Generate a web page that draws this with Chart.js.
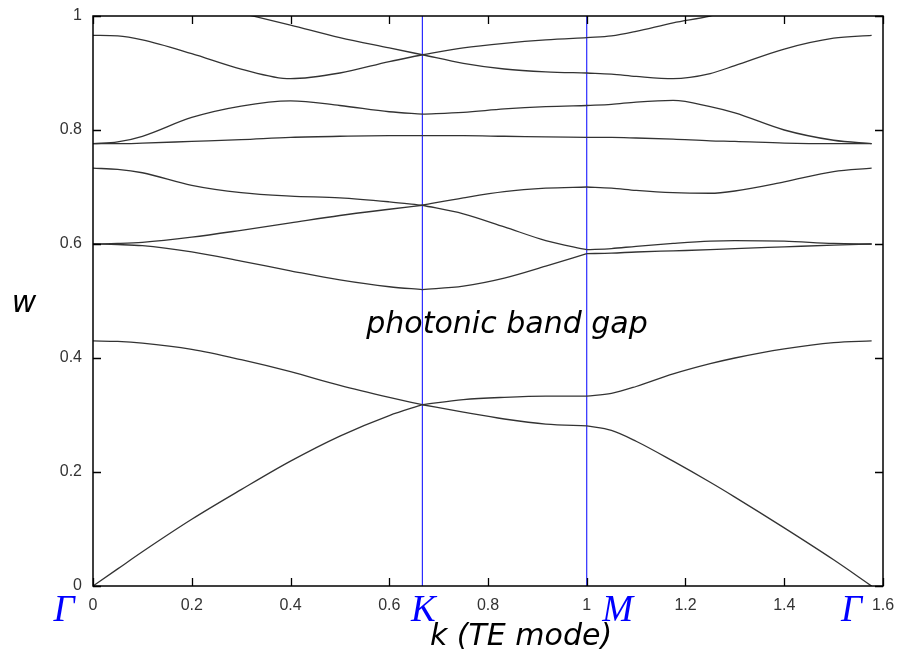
<!DOCTYPE html>
<html>
<head>
<meta charset="utf-8">
<script src="https://cdn.jsdelivr.net/npm/chart.js@4.4.1/dist/chart.umd.min.js"></script>
<style>
  html, body { margin: 0; padding: 0; background: #fff; }
  #wrap { width: 900px; height: 657px; }
</style>
</head>
<body>
<div id="wrap"><canvas id="bandChart" width="900" height="657"></canvas></div>
<script>
// 1. DATA

// k along the path Γ -> K -> M -> Γ
const kGrid = [0, 0.05, 0.1, 0.2, 0.3, 0.4, 0.5, 0.6, 0.667, 0.75, 0.833, 0.917, 1.0,
               1.05, 1.1, 1.175, 1.25, 1.3, 1.4, 1.5, 1.577];

// w for each band at kGrid
const band1 = [0, 0.030, 0.060, 0.117, 0.169, 0.219, 0.263, 0.299, 0.318, 0.305, 0.293, 0.284, 0.281,
               0.273, 0.254, 0.219, 0.182, 0.156, 0.102, 0.046, 0];
const band2 = [0.430, 0.429, 0.426, 0.415, 0.397, 0.376, 0.352, 0.331, 0.318, 0.327, 0.331, 0.333, 0.333,
               0.338, 0.350, 0.372, 0.390, 0.400, 0.416, 0.427, 0.430];
const band3 = [0.600, 0.599, 0.597, 0.586, 0.570, 0.553, 0.537, 0.525, 0.520, 0.526, 0.540, 0.561, 0.583,
               0.584, 0.586, 0.588, 0.590, 0.592, 0.595, 0.598, 0.600];
const band4 = [0.600, 0.601, 0.603, 0.612, 0.624, 0.637, 0.650, 0.661, 0.668, 0.653, 0.630, 0.606, 0.590,
               0.592, 0.596, 0.601, 0.605, 0.606, 0.605, 0.601, 0.600];
const band5 = [0.733, 0.731, 0.725, 0.703, 0.690, 0.684, 0.681, 0.674, 0.668, 0.681, 0.692, 0.698, 0.700,
               0.698, 0.694, 0.690, 0.689, 0.693, 0.709, 0.727, 0.733];
const band6 = [0.776, 0.776, 0.777, 0.780, 0.783, 0.787, 0.789, 0.790, 0.790, 0.790, 0.789, 0.788, 0.787,
               0.787, 0.786, 0.784, 0.781, 0.780, 0.777, 0.776, 0.776];
const band7 = [0.776, 0.779, 0.789, 0.822, 0.842, 0.851, 0.843, 0.832, 0.828, 0.831, 0.837, 0.841, 0.843,
               0.845, 0.849, 0.852, 0.841, 0.830, 0.800, 0.782, 0.776];
const band8 = [0.966, 0.965, 0.958, 0.934, 0.907, 0.890, 0.900, 0.920, 0.932, 0.917, 0.907, 0.902, 0.900,
               0.898, 0.894, 0.890, 0.899, 0.913, 0.942, 0.961, 0.966];
const band9 = [null, null, null, null, 1.005, 0.984, 0.962, 0.944, 0.932, 0.944, 0.952, 0.958, 0.962,
               0.965, 0.973, 0.988, 1.0, 1.012, null, null, null];

const bands = [band1, band2, band3, band4, band5, band6, band7, band8, band9];

// symmetry points
const symLabels = ['Γ', 'K', 'M', 'Γ'];
const symK = [0, 0.667, 1.0, 1.577];

// tick values
const kTicks = [0, 0.2, 0.4, 0.6, 0.8, 1.0, 1.2, 1.4, 1.6];
const wTicks = [0, 0.2, 0.4, 0.6, 0.8, 1.0];

// 2. DATASETS
// each band is split at K and M so the kinks stay sharp
const segBreaks = [[0, 8], [8, 12], [12, 20]];

function buildDatasets() {
  const sets = [];
  // vertical lines at K and M
  [symK[1], symK[2]].forEach(k => {
    sets.push({
      data: [{ x: k, y: 0 }, { x: k, y: 1 }],
      borderColor: '#0000ff',
      borderWidth: 1,
      pointRadius: 0,
      showLine: true,
      order: 2
    });
  });
  bands.forEach(b => {
    segBreaks.forEach(([a, z]) => {
      const pts = [];
      for (let i = a; i <= z; i++) {
        if (b[i] !== null) pts.push({ x: kGrid[i], y: b[i] });
      }
      if (pts.length < 2) return;
      sets.push({
        data: pts,
        borderColor: '#333333',
        borderWidth: 1.3,
        pointRadius: 0,
        showLine: true,
        cubicInterpolationMode: 'monotone',
        order: 1
      });
    });
  });
  return sets;
}

// 3. FRAME, INWARD TICKS AND TEXT
const decorPlugin = {
  id: 'decor',
  afterDatasetsDraw(chart) {
    const { ctx, chartArea: ca, scales } = chart;
    const xs = scales.x, ys = scales.y;
    ctx.save();

    // frame
    ctx.strokeStyle = '#000';
    ctx.lineWidth = 1.5;
    ctx.strokeRect(ca.left, ca.top, ca.right - ca.left, ca.bottom - ca.top);

    // inward ticks on all four sides
    const tl = 8;
    ctx.lineWidth = 1.3;
    ctx.beginPath();
    kTicks.forEach(v => {
      const px = Math.round(xs.getPixelForValue(v)) + 0.5;
      ctx.moveTo(px, ca.bottom); ctx.lineTo(px, ca.bottom - tl);
      ctx.moveTo(px, ca.top); ctx.lineTo(px, ca.top + tl);
    });
    wTicks.forEach(v => {
      const py = Math.round(ys.getPixelForValue(v)) + 0.5;
      ctx.moveTo(ca.left, py); ctx.lineTo(ca.left + tl, py);
      ctx.moveTo(ca.right, py); ctx.lineTo(ca.right - tl, py);
    });
    ctx.stroke();

    // symmetry point labels
    const symShift = [-29, 1, 31, -20];
    ctx.fillStyle = '#0000ff';
    ctx.font = 'italic 37px "Liberation Serif", "DejaVu Serif", serif';
    ctx.textAlign = 'center';
    ctx.textBaseline = 'alphabetic';
    symLabels.forEach((t, i) => {
      ctx.fillText(t, xs.getPixelForValue(symK[i]) + symShift[i], 621);
    });

    // titles
    ctx.fillStyle = '#000';
    ctx.font = 'italic 30px "DejaVu Sans", Verdana, sans-serif';
    ctx.textAlign = 'center';
    ctx.fillText('k (TE mode)', 521, 645);
    ctx.fillText('photonic band gap', 507, 333);
    ctx.fillText('w', 24, 312);

    ctx.restore();
  }
};

// 4. CHART
const tickFont = { family: '"Liberation Sans", Arial, sans-serif', size: 16 };
const fmt = v => String(Math.round(v * 10) / 10);

new Chart(document.getElementById('bandChart').getContext('2d'), {
  type: 'scatter',
  data: { datasets: buildDatasets() },
  options: {
    responsive: false,
    animation: false,
    layout: { padding: { top: 16, right: 17, bottom: 0, left: 0 } },
    plugins: { legend: { display: false }, tooltip: { enabled: false } },
    scales: {
      x: {
        type: 'linear',
        min: 0,
        max: 1.6,
        afterBuildTicks: s => { s.ticks = kTicks.map(v => ({ value: v })); },
        afterFit: s => {
          s.height = 71;
          s.paddingLeft = 0; s.paddingRight = 0;
        },
        grid: { display: false, drawTicks: false },
        border: { display: false },
        ticks: { font: tickFont, color: '#333', padding: 10, maxRotation: 0, callback: fmt }
      },
      y: {
        type: 'linear',
        min: 0,
        max: 1,
        afterBuildTicks: s => { s.ticks = wTicks.map(v => ({ value: v })); },
        afterFit: s => {
          s.width = 93;
          s.paddingTop = 0; s.paddingBottom = 0;
        },
        grid: { display: false, drawTicks: false },
        border: { display: false },
        ticks: { font: tickFont, color: '#333', padding: 11, callback: fmt }
      }
    }
  },
  plugins: [decorPlugin]
});
</script>
</body>
</html>
